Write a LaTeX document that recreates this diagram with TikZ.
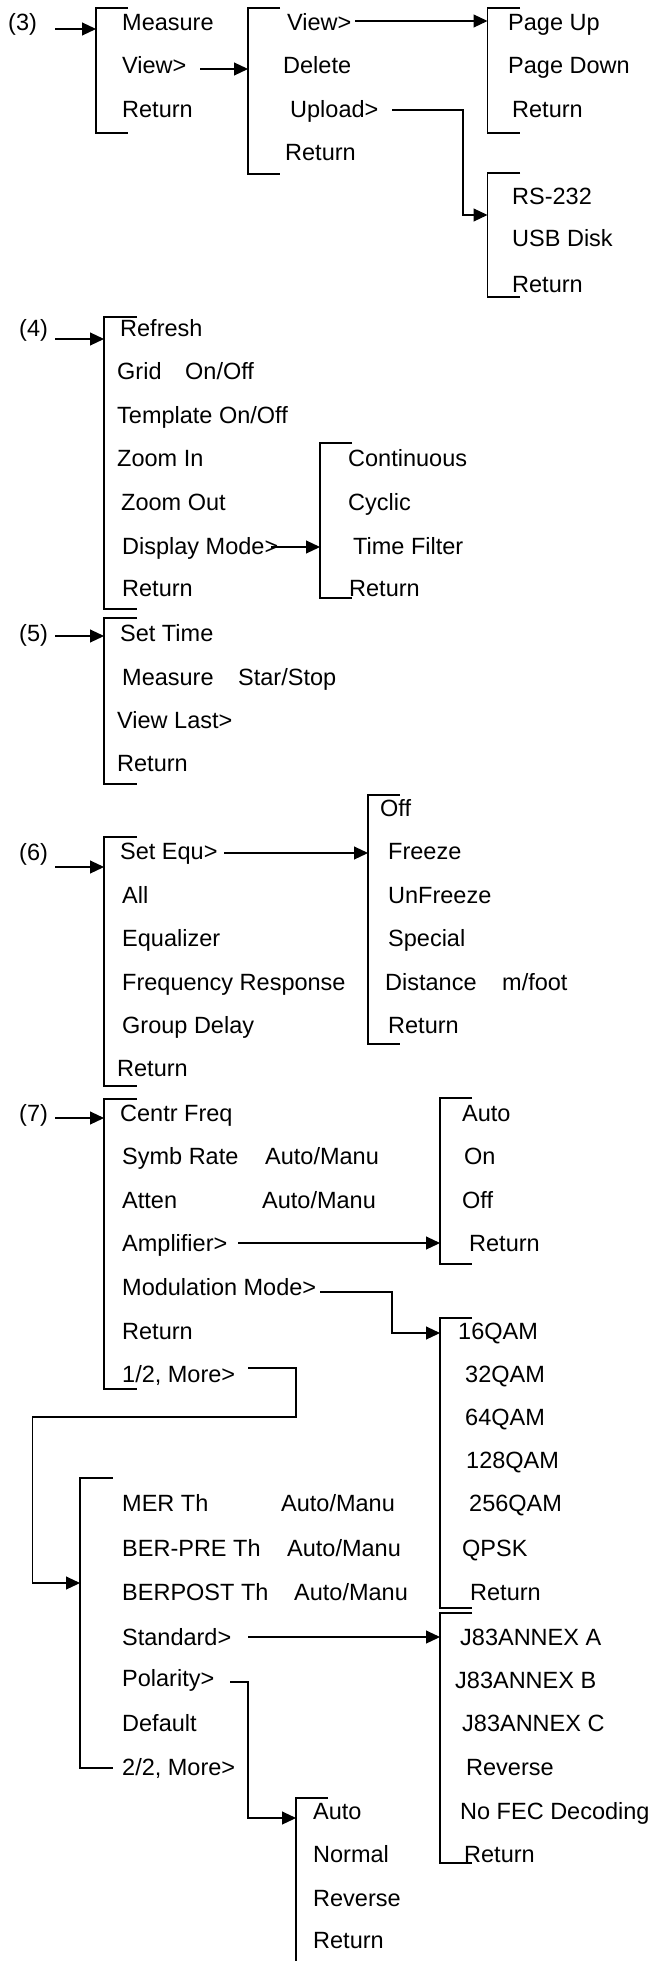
\documentclass[tikz,border=0pt]{standalone}
\usepackage{fontspec}
\setmainfont{Liberation Sans}
\usetikzlibrary{arrows.meta}

% vertical menu bracket: x, top, bottom, tick end
\newcommand\menubracket[4]{\draw[menuline] (#4,#2) -- (#1,#2) -- (#1,#3) -- (#4,#3);}

\begin{document}
\begin{tikzpicture}[x=1pt,y=-1pt,
  item/.style={anchor=base west, inner sep=0pt, font=\fontsize{23.5}{28}\selectfont},
  menuline/.style={line width=1.1pt},
  link/.style={line width=1.1pt, -{Triangle[length=14pt,width=13pt]}}]
\useasboundingbox (0,0) rectangle (654,1961);

% ---------------- (3) ----------------
\node[item] (lab3) at (8,31) {(3)};
\menubracket{96}{8}{133}{128}
\node[item] (a1) at (122,31) {Measure};
\node[item] (a2) at (122,74) {View>};
\node[item] (a3) at (122,118) {Return};
\menubracket{248}{8}{174}{280}
\node[item] (b1) at (287,31) {View>};
\node[item] (b2) at (283,74) {Delete};
\node[item] (b3) at (290,118) {Upload>};
\node[item] (b4) at (285,161) {Return};
\menubracket{487.5}{8}{133}{520}
\node[item] (c1) at (508,31) {Page Up};
\node[item] (c2) at (508,74) {Page Down};
\node[item] (c3) at (512,118) {Return};
\menubracket{487.5}{173}{297}{520}
\node[item] (d1) at (512,205) {RS-232};
\node[item] (d2) at (512,247) {USB Disk};
\node[item] (d3) at (512,292) {Return};

\coordinate (s3a) at (55,29);   \coordinate (t3a) at (96,29);
\coordinate (s3b) at (200,69);  \coordinate (t3b) at (248,69);
\coordinate (s3c) at (355,21);  \coordinate (t3c) at (487.5,21);
\coordinate (s3d) at (392,110); \coordinate (k3d) at (463,215); \coordinate (t3d) at (487.5,215);
\draw[link] (s3a) -- (t3a);
\draw[link] (s3b) -- (t3b);
\draw[link] (s3c) -- (t3c);
\draw[link] (s3d) -| (k3d) -- (t3d);

% ---------------- (4) ----------------
\node[item] (lab4) at (19,336) {(4)};
\menubracket{104}{317}{609}{137}
\node[item] (e1) at (120,336) {Refresh};
\node[item] (e2) at (117,379) {Grid};
\node[item] (e2v) at (185,379) {On/Off};
\node[item] (e3) at (117,423) {Template On/Off};
\node[item] (e4) at (117,466) {Zoom In};
\node[item] (e5) at (121,510) {Zoom Out};
\node[item] (e6) at (122,554) {Display Mode>};
\node[item] (e7) at (122,596) {Return};
\menubracket{320}{443}{598}{352}
\node[item] (f1) at (348,466) {Continuous};
\node[item] (f2) at (348,510) {Cyclic};
\node[item] (f3) at (353,554) {Time Filter};
\node[item] (f4) at (349,596) {Return};

\coordinate (s4a) at (55,339);  \coordinate (t4a) at (104,339);
\coordinate (s4b) at (271,547); \coordinate (t4b) at (320,547);
\draw[link] (s4a) -- (t4a);
\draw[link] (s4b) -- (t4b);

% ---------------- (5) ----------------
\node[item] (lab5) at (19,641) {(5)};
\menubracket{104}{618}{784}{137}
\node[item] (g1) at (120,641) {Set Time};
\node[item] (g2) at (122,685) {Measure};
\node[item] (g2v) at (238,685) {Star/Stop};
\node[item] (g3) at (117,728) {View Last>};
\node[item] (g4) at (117,771) {Return};

\coordinate (s5a) at (55,636);  \coordinate (t5a) at (104,636);
\draw[link] (s5a) -- (t5a);

% ---------------- (6) ----------------
\node[item] (lab6) at (19,860) {(6)};
\menubracket{104}{837}{1086}{137}
\node[item] (i1) at (120,859) {Set Equ>};
\node[item] (i2) at (122,903) {All};
\node[item] (i3) at (122,946) {Equalizer};
\node[item] (i4) at (122,990) {Frequency Response};
\node[item] (i5) at (122,1033) {Group Delay};
\node[item] (i6) at (117,1076) {Return};
\menubracket{368}{795}{1044}{400}
\node[item] (h1) at (380,816) {Off};
\node[item] (h2) at (388,859) {Freeze};
\node[item] (h3) at (388,903) {UnFreeze};
\node[item] (h4) at (388,946) {Special};
\node[item] (h5) at (385,990) {Distance};
\node[item] (h5v) at (502,990) {m/foot};
\node[item] (h6) at (388,1033) {Return};

\coordinate (s6a) at (55,867);  \coordinate (t6a) at (104,867);
\coordinate (s6b) at (224,853); \coordinate (t6b) at (368,853);
\draw[link] (s6a) -- (t6a);
\draw[link] (s6b) -- (t6b);

% ---------------- (7) ----------------
\node[item] (lab7) at (19,1121) {(7)};
\menubracket{104}{1099}{1389}{137}
\node[item] (j1) at (120,1121) {Centr Freq};
\node[item] (j2) at (122,1164) {Symb Rate};
\node[item] (j2v) at (265,1164) {Auto/Manu};
\node[item] (j3) at (122,1208) {Atten};
\node[item] (j3v) at (262,1208) {Auto/Manu};
\node[item] (j4) at (122,1251) {Amplifier>};
\node[item] (j5) at (122,1295) {Modulation Mode>};
\node[item] (j6) at (122,1339) {Return};
\node[item] (j7) at (122,1382) {1/2, More>};

\menubracket{440}{1098}{1264}{472}
\node[item] (k1) at (462,1121) {Auto};
\node[item] (k2) at (464,1164) {On};
\node[item] (k3) at (462,1208) {Off};
\node[item] (k4) at (469,1251) {Return};

\menubracket{440}{1318}{1608}{472}
\node[item] (q1) at (458,1339) {16QAM};
\node[item] (q2) at (465,1382) {32QAM};
\node[item] (q3) at (465,1425) {64QAM};
\node[item] (q4) at (466,1468) {128QAM};
\node[item] (q5) at (469,1511) {256QAM};
\node[item] (q6) at (462,1556) {QPSK};
\node[item] (q7) at (470,1600) {Return};

\menubracket{80}{1478}{1768}{112.5}
\node[item] (m1) at (122,1511) {MER Th};
\node[item] (m1v) at (281,1511) {Auto/Manu};
\node[item] (m2) at (122,1556) {BER-PRE Th};
\node[item] (m2v) at (287,1556) {Auto/Manu};
\node[item] (m3) at (122,1600) {BERPOST Th};
\node[item] (m3v) at (294,1600) {Auto/Manu};
\node[item] (m4) at (122,1645) {Standard>};
\node[item] (m5) at (122,1686) {Polarity>};
\node[item] (m6) at (122,1731) {Default};
\node[item] (m7) at (122,1775) {2/2, More>};

\menubracket{440}{1613}{1863}{472}
\node[item] (n1) at (460,1645) {J83ANNEX A};
\node[item] (n2) at (455,1688) {J83ANNEX B};
\node[item] (n3) at (462,1731) {J83ANNEX C};
\node[item] (n4) at (466,1775) {Reverse};
\node[item] (n5) at (460,1819) {No FEC Decoding};
\node[item] (n6) at (464,1862) {Return};

% polarity submenu runs off the lower edge
\draw[menuline] (328,1798) -- (296,1798) -- (296,1961);
\node[item] (o1) at (313,1819) {Auto};
\node[item] (o2) at (313,1862) {Normal};
\node[item] (o3) at (313,1906) {Reverse};
\node[item] (o4) at (313,1948) {Return};

\coordinate (s7a) at (55,1118);  \coordinate (t7a) at (104,1118);
\coordinate (s7b) at (238,1243); \coordinate (t7b) at (440,1243);
\coordinate (s7c) at (320,1292); \coordinate (k7c) at (392,1333); \coordinate (t7c) at (440,1333);
\coordinate (s7d) at (248,1368); \coordinate (k7d) at (296,1417); \coordinate (l7d) at (32.5,1583); \coordinate (t7d) at (80,1583);
\coordinate (s7e) at (248,1637); \coordinate (t7e) at (440,1637);
\coordinate (s7f) at (230,1682); \coordinate (k7f) at (248,1818); \coordinate (t7f) at (296,1818);
\draw[link] (s7a) -- (t7a);
\draw[link] (s7b) -- (t7b);
\draw[link] (s7c) -| (k7c) -- (t7c);
\draw[link] (s7d) -| (k7d) -| (l7d) -- (t7d);
\draw[link] (s7e) -- (t7e);
\draw[link] (s7f) -| (k7f) -- (t7f);
\end{tikzpicture}
\end{document}
